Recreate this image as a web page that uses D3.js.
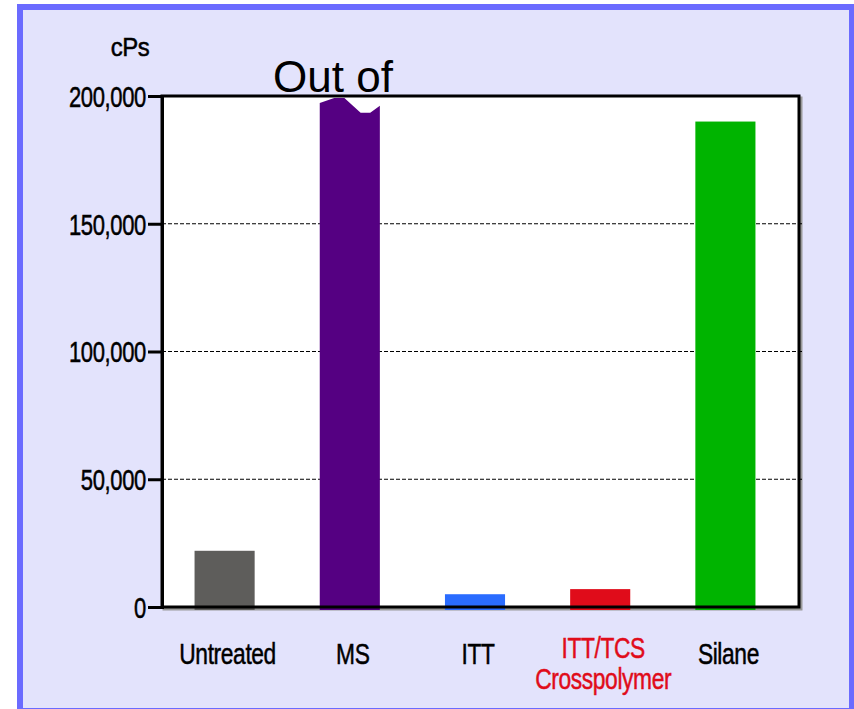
<!DOCTYPE html>
<html>
<head>
<meta charset="utf-8">
<script src="https://cdn.jsdelivr.net/npm/d3@7"></script>
<style>
  body { margin: 0; background: #ffffff; }
  text { font-family: "Liberation Sans", Arial, sans-serif; }
</style>
</head>
<body>
<script>
// chart data
const categories = ["Untreated", "MS", "ITT", "ITT/TCS Crosspolymer", "Silane"];
const labelLines = [["Untreated"], ["MS"], ["ITT"], ["ITT/TCS", "Crosspolymer"], ["Silane"]];
const values = [22000, 197000, 5000, 7000, 190000];
const barColors = ["#5e5d5b", "#550082", "#2a6cff", "#e00c1a", "#00b400"];
const labelColors = ["#000000", "#000000", "#000000", "#e00c1a", "#000000"];
const yTicks = [0, 50000, 100000, 150000, 200000];
const gridTicks = [50000, 100000, 150000];
// MS is off the scale: its top is drawn as a torn edge (position across bar, value)
const outOfRange = "MS";
const brokenTop = [[0, 197300], [0.24, 199200], [0.41, 199200], [0.68, 193400], [0.84, 193400], [1, 196200]];
const unitLabel = "cPs";
const outOfLabel = "Out of";

const width = 854, height = 709;
const plot = { left: 162, right: 799, top: 96, bottom: 607 };

const svg = d3.select("body").append("svg")
    .attr("width", width)
    .attr("height", height);

// condensed, slightly heavy look of the original font
function squeeze(sel, k) {
    sel.each(function () {
        let t = d3.select(this);
        let x = +t.attr("x") || 0;
        let y = +t.attr("y") || 0;
        t.attr("x", 0).attr("y", 0)
            .attr("stroke", t.attr("fill") || "#000")
            .attr("stroke-width", 0.5)
            .attr("letter-spacing", -0.5)
            .attr("transform", "translate(" + x + "," + y + ") scale(" + k + ",1)");
    });
}

// frame
svg.append("rect")
    .attr("x", 20).attr("y", 7)
    .attr("width", 832).attr("height", 704)
    .attr("fill", "#e3e3fc")
    .attr("stroke", "#6b6bff")
    .attr("stroke-width", 6);

let x = d3.scaleBand()
    .domain(categories)
    .range([plot.left, 788])
    .paddingInner(0.52)
    .paddingOuter(0.26);

let y = d3.scaleLinear()
    .domain([0, 200000])
    .range([plot.bottom, plot.top]);

// plot area with a little shadow
svg.append("rect")
    .attr("x", plot.left + 2).attr("y", plot.top + 2)
    .attr("width", plot.right - plot.left).attr("height", plot.bottom - plot.top)
    .attr("fill", "none")
    .attr("stroke", "#9a9a9a")
    .attr("stroke-width", 3);
svg.append("rect")
    .attr("x", plot.left).attr("y", plot.top)
    .attr("width", plot.right - plot.left).attr("height", plot.bottom - plot.top)
    .attr("fill", "#ffffff");

// dashed grid
svg.append("g")
    .selectAll("line")
    .data(gridTicks)
    .enter().append("line")
    .attr("x1", plot.left).attr("x2", plot.right + 4)
    .attr("y1", d => y(d)).attr("y2", d => y(d))
    .attr("stroke", "#000")
    .attr("stroke-width", 1)
    .attr("stroke-dasharray", "4,2");

// bars
let bars = svg.append("g");
categories.forEach(function (c, i) {
    let x0 = x(c), bw = x.bandwidth();
    if (c === outOfRange) {
        let pts = [[x0, y(0) + 3]];
        brokenTop.forEach(p => pts.push([x0 + p[0] * bw, y(p[1])]));
        pts.push([x0 + bw, y(0) + 3]);
        bars.append("path")
            .attr("d", d3.line()(pts) + "Z")
            .attr("fill", barColors[i]);
    } else {
        bars.append("rect")
            .attr("x", x0)
            .attr("y", y(values[i]))
            .attr("width", bw)
            .attr("height", y(0) - y(values[i]) + 3)
            .attr("fill", barColors[i]);
    }
});

// plot border
svg.append("rect")
    .attr("x", plot.left).attr("y", plot.top)
    .attr("width", plot.right - plot.left).attr("height", plot.bottom - plot.top)
    .attr("fill", "none")
    .attr("stroke", "#000")
    .attr("stroke-width", 3);

// y axis
let yAxis = svg.append("g")
    .attr("transform", "translate(" + plot.left + ",0)")
    .call(d3.axisLeft(y)
        .tickValues(yTicks)
        .tickFormat(d3.format(","))
        .tickSize(14)
        .tickPadding(2));
yAxis.select(".domain").attr("stroke-width", 3);
yAxis.selectAll(".tick line").attr("stroke-width", 3);
yAxis.selectAll(".tick text")
    .attr("font-size", 29)
    .attr("fill", "#000")
    .attr("dy", "0.36em")
    .call(squeeze, 0.76);

// unit label
svg.append("text")
    .attr("x", 130).attr("y", 56)
    .attr("text-anchor", "middle")
    .attr("font-size", 26)
    .attr("fill", "#000")
    .text(unitLabel)
    .call(squeeze, 0.92);

// out-of-range note
svg.append("text")
    .attr("x", 333).attr("y", 92)
    .attr("text-anchor", "middle")
    .attr("font-size", 44)
    .text(outOfLabel);

// category labels
let labels = svg.append("g");
categories.forEach(function (c, i) {
    let lines = labelLines[i];
    let cx = x(c) + x.bandwidth() / 2 + 3;
    let y0 = lines.length > 1 ? 658 : 664;
    lines.forEach(function (l, j) {
        labels.append("text")
            .attr("x", cx)
            .attr("y", y0 + j * 31)
            .attr("text-anchor", "middle")
            .attr("font-size", 30)
            .attr("fill", labelColors[i])
            .text(l)
            .call(squeeze, 0.76);
    });
});
</script>
</body>
</html>
